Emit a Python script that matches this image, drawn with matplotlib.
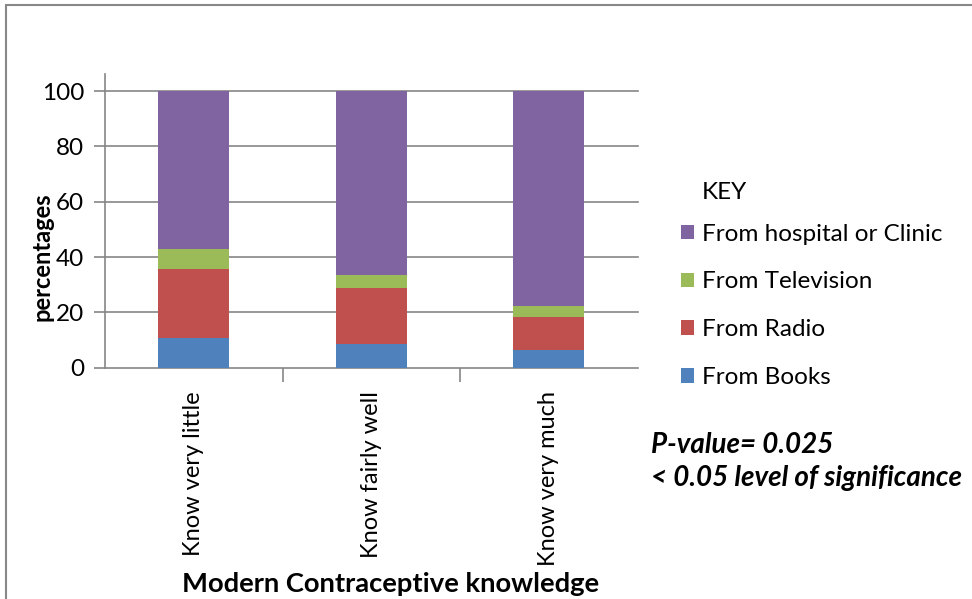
"""
Stacked bar chart: source of modern contraceptive knowledge.
"""

import matplotlib
matplotlib.use("Agg")
import matplotlib.pyplot as plt
from matplotlib.patches import Rectangle

categories = ["Know very little", "Know fairly well", "Know very much"]
sources = ["From Books", "From Radio", "From Television", "From hospital or Clinic"]
books = [10.7, 8.7, 6.5]
radio = [24.9, 20.0, 11.7]
television = [7.3, 4.8, 4.0]
hospital = [57.1, 66.5, 77.8]
yticks = [0, 20, 40, 60, 80, 100]

colors = ["#4F81BD", "#C0504D", "#9BBB59", "#8064A2"]
grid_color = "#868686"

plt.rcParams["font.family"] = ["Lato", "DejaVu Sans"]

fig = plt.figure(figsize=(9.72, 5.99), dpi=100)
ax = fig.add_axes([0.108, 0.3862, 0.548, 0.4903])

# outer chart border (clipped at right and bottom like the original)
fig.patches.append(Rectangle((5.5 / 972, -0.1), 1.2, 1 - 5.5 / 599 + 0.1,
                             transform=fig.transFigure, fill=False,
                             edgecolor="#888888", linewidth=1.5))

x = range(len(categories))
bottom = [0, 0, 0]
bars = []
for vals, col in zip([books, radio, television, hospital], colors):
    b = ax.bar(x, vals, width=0.4, bottom=bottom, color=col, zorder=3)
    bars.append(b)
    bottom = [a + v for a, v in zip(bottom, vals)]

ax.set_xlim(-0.5, 2.5)
ax.set_ylim(0, 106.2)
ax.set_yticks(yticks)
ax.set_yticklabels([str(t) for t in yticks], fontsize=17.5)
for t in yticks:
    ax.axhline(t, color=grid_color, linewidth=1.2, zorder=1, clip_on=False)

# category labels at bar centres, separator ticks between categories
ax.set_xticks(list(x))
ax.set_xticklabels(categories, rotation=90, fontsize=17)
ax.tick_params(axis="x", length=0, pad=17)
ax.set_xticks([0.5, 1.5], minor=True)
ax.tick_params(axis="x", which="minor", length=10, color=grid_color, width=1.2)
ax.tick_params(axis="y", length=8, color=grid_color, width=1.2, pad=7)

for side in ["top", "right", "bottom"]:
    ax.spines[side].set_visible(False)
ax.spines["left"].set_color(grid_color)
ax.spines["left"].set_linewidth(1.2)

ax.set_ylabel("percentages", fontsize=17, fontweight="bold")
ax.yaxis.set_label_coords(-0.097, 0.378)
fig.text(0.402, 0.025, "Modern Contraceptive knowledge", fontsize=19.7,
         fontweight="bold", ha="center", va="center")

handles = [bars[3], bars[2], bars[1], bars[0]]
labels = [sources[3], sources[2], sources[1], sources[0]]
leg = fig.legend(handles, labels, loc="upper left", bbox_to_anchor=(0.678, 0.663),
                 frameon=False, fontsize=17.5, handlelength=0.53, handleheight=0.53,
                 handletextpad=0.33, labelspacing=1.10)
fig.text(0.722, 0.679, "KEY", fontsize=17.5, va="center")

fig.text(0.67, 0.257, "P-value= 0.025", fontsize=20, fontweight="bold",
         fontstyle="italic", va="center")
fig.text(0.67, 0.202, "< 0.05 level of significance", fontsize=20,
         fontweight="bold", fontstyle="italic", va="center")

fig.savefig("out.png", dpi=100)
